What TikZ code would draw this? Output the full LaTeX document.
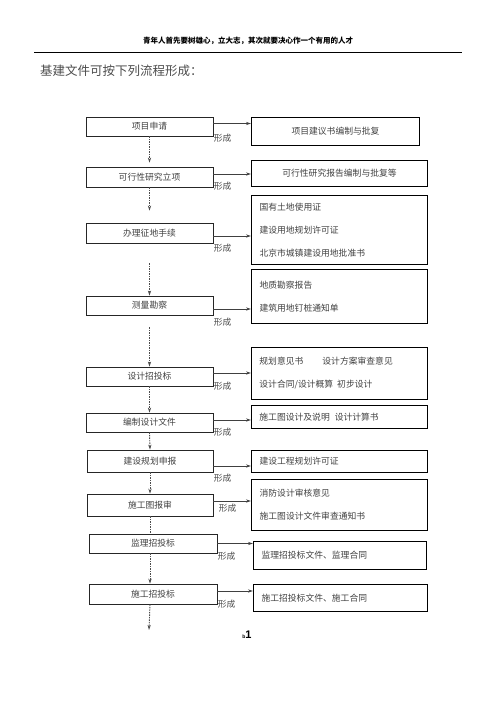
\documentclass[tikz,border=0pt]{standalone}
\usepackage{fontspec}
\setmainfont{Liberation Serif}
\newfontfamily\cjk{Noto Sans CJK SC}
\newfontfamily\pnum{Liberation Sans}
\usetikzlibrary{arrows.meta,calc}
\tikzset{
  fwd/.style={-{Stealth[length=5pt,width=3.2pt]}, line width=0.8pt, color=black!75},
  vdash/.style={-{Stealth[length=5pt,width=3.2pt]}, line width=0.9pt, dash pattern=on 1.5pt off 1pt, color=black!70},
  lbox/.style={draw=black!85, line width=0.7pt, minimum width=127pt, minimum height=#1, inner sep=0pt, font=\cjk\fontsize{8.8}{10}\selectfont, text=black!75},
  rbox/.style 2 args={draw=black, line width=1pt, anchor=north west, inner xsep=8pt, inner ysep=0pt, text width=#1, minimum height=#2, align=left, font=\cjk\fontsize{8.8}{23}\selectfont, text=black!75},
  lbl/.style={anchor=west, inner sep=0pt, font=\cjk\fontsize{8.8}{10}\selectfont, text=black!70}
}

\begin{document}
\begin{tikzpicture}[x=1pt,y=-1pt]
\useasboundingbox (0,0) rectangle (496,702);
% header and title
\node[font=\cjk\bfseries\fontsize{7.5}{9}\selectfont] (head) at (248,40.5) {青年人首先要树雄心，立大志，其次就要决心作一个有用的人才};
\draw[line width=0.8pt] (34,52) -- (462,52);
\node[anchor=west, inner sep=0pt, font=\cjk\fontsize{12.5}{14}\selectfont, text=black!70] (title) at (40,71) {基建文件可按下列流程形成：};
% steps
\node[lbox=19pt] (l1) at (149.5,126.5) {项目申请};
\node[lbox=20pt] (l2) at (149.5,177) {可行性研究立项};
\node[lbox=20pt] (l3) at (149.5,233) {办理征地手续};
\node[lbox=19pt] (l4) at (149.5,305.5) {测量勘察};
\node[lbox=19pt] (l5) at (149.5,376.5) {设计招投标};
\node[lbox=19pt] (l6) at (149.5,422.5) {编制设计文件};
\node[lbox=22pt, minimum width=126pt] (l7) at (150,461) {建设规划申报};
\node[lbox=22pt, minimum width=126pt] (l8) at (150,505) {施工图报审};
\node[lbox=19pt, minimum width=128pt] (l9) at (153,543.5) {监理招投标};
\node[lbox=20pt, minimum width=128pt] (l10) at (153,594) {施工招投标};
% documents
\node[rbox={152pt}{28pt}, align=center] (r1) at (251,117) {项目建议书编制与批复};
\node[rbox={160pt}{26pt}, align=center] (r2) at (251,160) {可行性研究报告编制与批复等};
\node[rbox={160pt}{69pt}] (r3) at (251,195) {国有土地使用证\\建设用地规划许可证\\北京市城镇建设用地批准书};
\node[rbox={160pt}{54pt}] (r4) at (251,269) {地质勘察报告\\建筑用地钉桩通知单};
\node[rbox={160pt}{52pt}, line width=0.8pt] (r5) at (251,347) {规划意见书\hspace{19pt}设计方案审查意见\\设计合同/设计概算\hspace{4pt}初步设计};
\node[rbox={160pt}{23pt}, line width=0.8pt] (r6) at (251,405) {施工图设计及说明\hspace{5pt}设计计算书};
\node[rbox={160pt}{22pt}] (r7) at (251,450) {建设工程规划许可证};
\node[rbox={160pt}{51pt}, line width=1.2pt] (r8) at (251,479) {消防设计审核意见\\施工图设计文件审查通知书};
\node[rbox={157pt}{28pt}] (r9) at (253,541) {监理招投标文件、监理合同};
\node[rbox={158pt}{27pt}] (r10) at (253,584) {施工招投标文件、施工合同};
% 形成 arrows
\foreach \i/\dy/\lx/\ly in {1/3/0/15,2/3/0/12,3/-3/0/12,4/-3.5/0/13,5/3.5/0/13,6/2.5/0/12,7/-5/0/12,8/4/5/7,9/0/0/13,10/3/0/13}
  \draw[fwd] ([yshift=\dy pt]l\i.east) -- ([yshift=\dy pt]l\i.east -| r\i.west)
    node[lbl, pos=0, xshift=\lx pt, yshift=-\ly pt] {形成};
% flow
\coordinate (end) at (149,630);
\draw[vdash, shorten >=4pt] (l1.south) -- (l2.north);
\draw[vdash, shorten >=12pt] (l2.south) -- (l3.north);
\draw[vdash, shorten <=20pt] (l3.south) -- (l4.north);
\draw[vdash, shorten <=12pt] (l4.south) -- (l5.north);
\draw[vdash] (l5.south) -- (l6.north);
\draw[vdash] (l6.south) -- (l7.north);
\draw[vdash] (l7.south) -- (l8.north);
\draw[vdash, -] (l8.south) -- (l8.south |- l9.north);
\draw[vdash] (l8.south |- l9.south) -- (l8.south |- l10.north);
\draw[vdash] (l8.south |- l10.south) -- (end);
% page number
\node[font=\pnum\bfseries] (page) at (247,635) {{\tiny b}\fontsize{11}{12}\selectfont 1};
\end{tikzpicture}
\end{document}
